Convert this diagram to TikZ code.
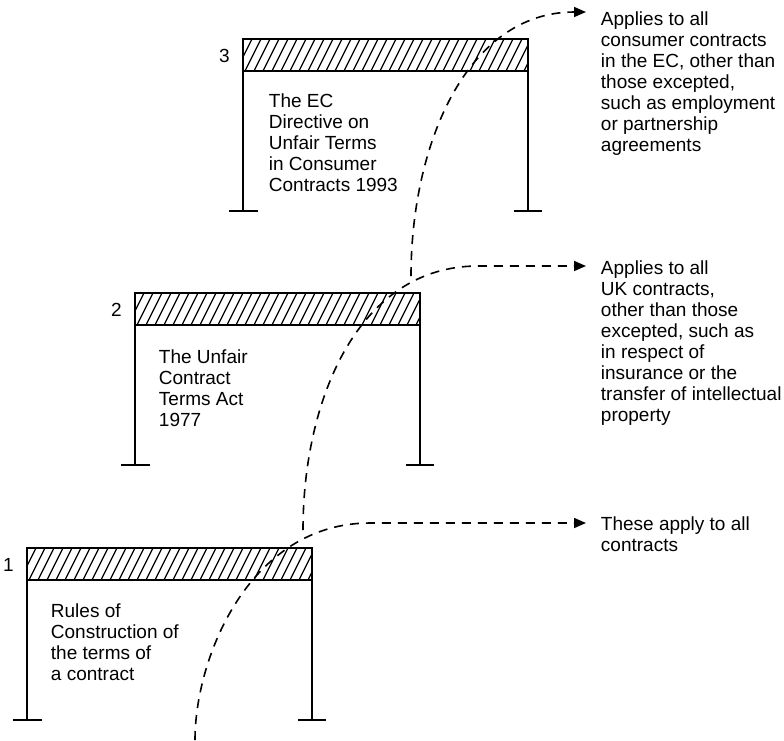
\documentclass[tikz,border=0pt]{standalone}
\usepackage{fontspec}
\setmainfont{Liberation Sans}
\usetikzlibrary{arrows.meta}
\begin{document}
\begin{tikzpicture}[x=1pt,y=-1pt,line width=1.9pt,
  beam/.style={line width=1.9pt},
  hatch/.style={line width=1.3pt},
  flow/.style={line width=1.6pt,dash pattern=on 9pt off 7pt,-{Triangle[length=12pt,width=10pt]}},
  txt/.style={align=left,anchor=north west,inner sep=0pt},
  every node/.style={font=\fontsize{19}{21}\selectfont}]
 \useasboundingbox (0,0) rectangle (784,740);
 % the three frames, lowest first
 \foreach \n/\L/\T in {1/27/548,2/135/293,3/243/39}{
   \begin{scope}
     \clip (\L,\T) rectangle (\L+285,\T+32);
     \foreach \k in {0,...,35}
       \draw[hatch] (\L+9*\k-16,\T+32) -- ++(16,-32);
   \end{scope}
   \draw[beam] (\L,\T) rectangle (\L+285,\T+32);
   \draw (\L,\T+32) -- (\L,\T+172) (\L+285,\T+32) -- (\L+285,\T+172);
   \draw (\L-14,\T+172) -- (\L+15,\T+172) (\L+271,\T+172) -- (\L+299,\T+172);
   \node[anchor=east] (num\n) at (\L-9,\T+17) {\n};
 }
 \node[txt] (act3) at (268,93) {The EC\\Directive on\\Unfair Terms\\in Consumer\\Contracts 1993};
 \node[txt] (act2) at (158,349) {The Unfair\\Contract\\Terms Act\\1977};
 \node[txt] (act1) at (50,603) {Rules of\\Construction of\\the terms of\\a contract};
 \node[txt] (appl3) at (600,11) {Applies to all\\consumer contracts\\in the EC, other than\\those excepted,\\such as employment\\or partnership\\agreements};
 \node[txt] (appl2) at (600,260) {Applies to all\\UK contracts,\\other than those\\excepted, such as\\in respect of\\insurance or the\\transfer of intellectual\\property};
 \node[txt] (appl1) at (600,516) {These apply to all\\contracts};
 % dashed reach lines
 \coordinate (s1) at (195,740);
 \coordinate (s2) at (303,530);
 \coordinate (s3) at (411,276);
 \coordinate (e1) at (586,523);
 \coordinate (e2) at (586,266);
 \coordinate (e3) at (586,12);
 \draw[flow] (s1) .. controls (195,657) and (250,523) .. (370,523) -- (e1);
 \draw[flow] (s2) .. controls (303,400) and (358,266) .. (478,266) -- (e2);
 \draw[flow] (s3) .. controls (411,146) and (466,12) .. (e3);
\end{tikzpicture}
\end{document}
